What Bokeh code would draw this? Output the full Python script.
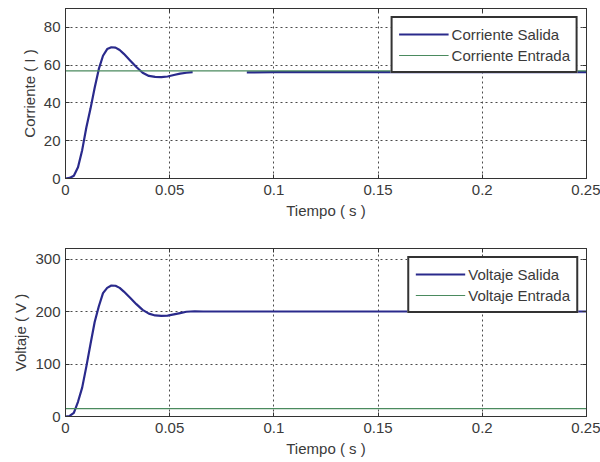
from bokeh.plotting import figure
from bokeh.models import (LinearAxis, Legend, LegendItem, FixedTicker, Range1d,
                          CustomLabelingPolicy)
from bokeh.layouts import column
from bokeh.embed import file_html
from bokeh.resources import INLINE

nan = float("nan")

# Time axis ticks
tiempo_ticks = [0, 0.05, 0.1, 0.15, 0.2, 0.25]
tiempo_labels = ["0", "0.05", "0.1", "0.15", "0.2", "0.25"]

# Output current (A) — transient, then a short gap in the trace, then steady
t_corriente = [0, 0.002, 0.004, 0.006, 0.008, 0.010, 0.012, 0.014, 0.016, 0.018,
               0.020, 0.022, 0.024, 0.026, 0.028, 0.031, 0.034, 0.037, 0.040, 0.043,
               0.046, 0.049, 0.052, 0.055, 0.058, 0.061, 0.074, 0.087, 0.100, 0.250]
corriente_salida = [0, 0.3, 1.5, 6, 15, 27, 37, 48, 58, 65,
                    68.5, 69.5, 69.3, 68, 66, 62.5, 59, 56, 54.3, 53.8,
                    53.7, 54, 54.8, 55.5, 56, 56.3, nan, 56.2, 56.3, 56.3]
t_entrada = [0, 0.25]
corriente_entrada = [57, 57]

# Output voltage (V)
t_voltaje = [0, 0.002, 0.004, 0.006, 0.008, 0.010, 0.012, 0.014, 0.016, 0.018,
             0.020, 0.022, 0.024, 0.026, 0.028, 0.031, 0.034, 0.037, 0.040, 0.043,
             0.046, 0.049, 0.052, 0.055, 0.058, 0.062, 0.066, 0.250]
voltaje_salida = [0, 1, 7, 28, 55, 95, 138, 180, 210, 235,
                  245, 249.5, 249, 245, 238, 226, 214, 203, 196, 192.5,
                  191.5, 192, 194.5, 197, 199.5, 200.5, 200, 200]
voltaje_entrada = [15, 15]

FONT = "Liberation Sans"
TEXT = "#3a3a3a"
FRAME = "#333333"
AZUL = "#2a2a8c"
VERDE = "#4a8a5e"

# Hides every tick label of the decorative top/right axes
SIN_ETIQUETAS = """
for (const i of indices) {
    indices.unset(i)
}
return indices
"""


def panel(ylabel, y_end, y_ticks, t_out, y_out, y_in, names, top, bottom):
    p = figure(width=600, height=231, output_backend="svg", toolbar_location=None,
               x_range=Range1d(0, 0.25), y_range=Range1d(0, y_end),
               min_border_left=65, min_border_right=14,
               min_border_top=top, min_border_bottom=bottom)
    p.background_fill_color = "white"
    p.border_fill_color = "white"
    p.outline_line_color = FRAME
    p.outline_line_width = 1

    for ax in (p.xaxis[0], p.yaxis[0]):
        ax.axis_line_color = FRAME
        ax.major_tick_in = 4
        ax.major_tick_out = 0
        ax.minor_tick_in = 0
        ax.minor_tick_out = 0
        ax.major_tick_line_color = FRAME
        ax.major_label_text_font = FONT
        ax.major_label_text_font_size = "15px"
        ax.major_label_text_color = TEXT
        ax.axis_label_text_font = FONT
        ax.axis_label_text_font_size = "15px"
        ax.axis_label_text_font_style = "normal"
        ax.axis_label_text_color = TEXT

    p.xaxis.ticker = FixedTicker(ticks=tiempo_ticks)
    p.xaxis.major_label_overrides = {v: s for v, s in zip(tiempo_ticks, tiempo_labels)}
    p.xaxis.axis_label = "Tiempo ( s )"
    p.xaxis.major_label_standoff = 6
    p.xaxis.axis_label_standoff = 4

    p.yaxis.ticker = FixedTicker(ticks=y_ticks)
    p.yaxis.axis_label = ylabel
    p.yaxis.major_label_standoff = 5
    p.yaxis.axis_label_standoff = 3

    # Tick marks on the top and right edges of the frame
    for side, tick in (("above", tiempo_ticks), ("right", y_ticks)):
        ax = LinearAxis(ticker=FixedTicker(ticks=tick),
                        major_label_policy=CustomLabelingPolicy(code=SIN_ETIQUETAS),
                        major_label_text_font_size="1px",
                        major_label_standoff=0, major_tick_in=4, major_tick_out=0,
                        minor_tick_in=0, minor_tick_out=0, axis_line_color=FRAME,
                        major_tick_line_color=FRAME)
        p.add_layout(ax, side)

    p.xgrid.ticker = FixedTicker(ticks=tiempo_ticks)
    p.ygrid.ticker = FixedTicker(ticks=y_ticks)
    for g in (p.xgrid[0], p.ygrid[0]):
        g.grid_line_color = "#4a4a4a"
        g.grid_line_dash = "2 3"
        g.grid_line_width = 1

    r_out = p.line(t_out, y_out, line_color=AZUL, line_width=2.2)
    r_in = p.line(t_entrada, y_in, line_color=VERDE, line_width=1.2)

    legend = Legend(items=[LegendItem(label=names[0], renderers=[r_out]),
                           LegendItem(label=names[1], renderers=[r_in])],
                    location="top_right", margin=8, padding=6, spacing=1,
                    glyph_width=50, glyph_height=20, label_height=20, label_standoff=3,
                    label_text_font=FONT, label_text_font_size="15px",
                    label_text_color=TEXT, border_line_color=FRAME,
                    border_line_width=2, border_line_alpha=1,
                    background_fill_color="white", background_fill_alpha=1)
    p.add_layout(legend, "center")
    return p


p1 = panel("Corriente ( I )", 90, [0, 20, 40, 60, 80], t_corriente, corriente_salida,
           corriente_entrada, ["Corriente Salida", "Corriente Entrada"], 8, 53)
p2 = panel("Voltaje ( V )", 320, [0, 100, 200, 300], t_voltaje, voltaje_salida,
           voltaje_entrada, ["Voltaje Salida", "Voltaje Entrada"], 17, 46)

layout = column(p1, p2, spacing=0)
open("out.html", "w").write(file_html(layout, INLINE))
